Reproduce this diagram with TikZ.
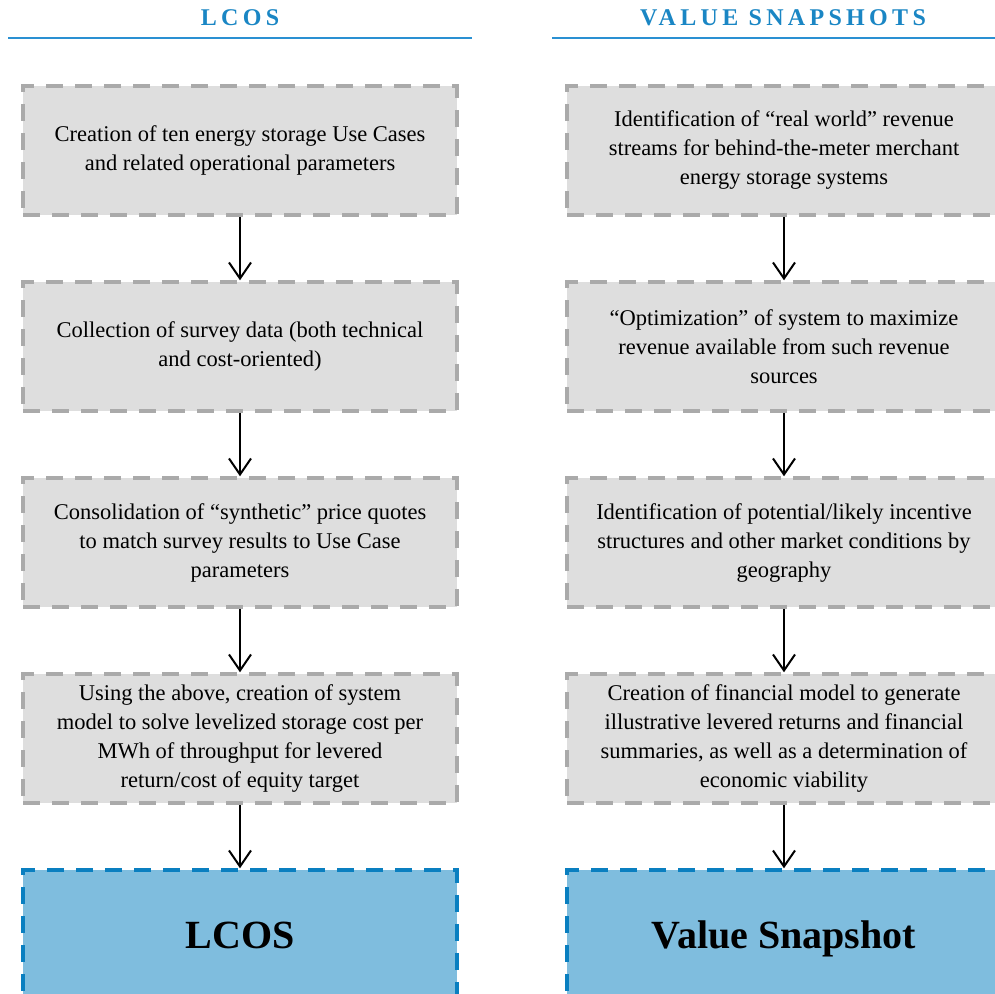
\documentclass[tikz,border=0pt]{standalone}
\usepackage{fontspec}
\setmainfont{Liberation Serif}
\usetikzlibrary{arrows.meta}
\definecolor{hdrblue}{HTML}{1A86C4}
\definecolor{rulblue}{HTML}{2A90D2}
\definecolor{boxgray}{HTML}{AAAAAA}
\definecolor{boxfill}{HTML}{DEDEDE}
\definecolor{bluefill}{HTML}{7FBDDE}
\definecolor{blueedge}{HTML}{0A7FC0}
\begin{document}
\begin{tikzpicture}[x=1pt,y=-1pt,
  hdr/.style={text=hdrblue, font=\fontsize{24}{24}\selectfont\bfseries\addfontfeatures{LetterSpace=18}, inner sep=0},
  hdrline/.style={draw=rulblue, line width=2pt},
  graybox/.style={draw=boxgray, fill=boxfill, line width=3.5pt, dash pattern=on 17pt off 12pt,
    minimum width=434pt, minimum height=129pt, align=center, inner sep=0,
    font=\fontsize{22.5}{29}\selectfont},
  bluebox/.style={draw=blueedge, fill=bluefill, line width=3.5pt, dash pattern=on 17pt off 12pt,
    minimum width=434pt, minimum height=130pt, align=center, inner sep=0, text depth=0pt,
    font=\fontsize{40}{40}\selectfont\bfseries},
  arr/.style={draw=black, line width=2pt, -{Straight Barb[length=16pt,width=22pt,line width=2pt]}}
]
\useasboundingbox (0,0) rectangle (994,994);
% headers
\node[hdr] (h1) at (240,18) {LCOS};
\node[hdr] (h2) at (783,18) {VALUE SNAPSHOTS};
\coordinate (l1a) at (8,38);  \coordinate (l1b) at (472,38);
\coordinate (l2a) at (552,38); \coordinate (l2b) at (1000,38);
\draw[hdrline] (l1a) -- (l1b);
\draw[hdrline] (l2a) -- (l2b);
% left column
\node[graybox] (L1) at (240,150.5) {Creation of ten energy storage Use Cases\\and related operational parameters};
\node[graybox] (L2) at (240,346.5) {Collection of survey data (both technical\\and cost-oriented)};
\node[graybox] (L3) at (240,542.5) {Consolidation of “synthetic” price quotes\\to match survey results to Use Case\\parameters};
\node[graybox] (L4) at (240,738.5) {Using the above, creation of system\\model to solve levelized storage cost per\\MWh of throughput for levered\\return/cost of equity target};
\node[bluebox] (L5) at (240,935) {LCOS};
% right column
\node[graybox] (R1) at (784,150.5) {Identification of “real world” revenue\\streams for behind-the-meter merchant\\energy storage systems};
\node[graybox] (R2) at (784,346.5) {“Optimization” of system to maximize\\revenue available from such revenue\\sources};
\node[graybox] (R3) at (784,542.5) {Identification of potential/likely incentive\\structures and other market conditions by\\geography};
\node[graybox] (R4) at (784,738.5) {Creation of financial model to generate\\illustrative levered returns and financial\\summaries, as well as a determination of\\economic viability};
\node[bluebox] (R5) at (784,935) {Value Snapshot};
% arrows
\foreach \a/\b in {L1/L2,L2/L3,L3/L4,L4/L5,R1/R2,R2/R3,R3/R4,R4/R5}
  \draw[arr] (\a) -- (\b);
\end{tikzpicture}
\end{document}
